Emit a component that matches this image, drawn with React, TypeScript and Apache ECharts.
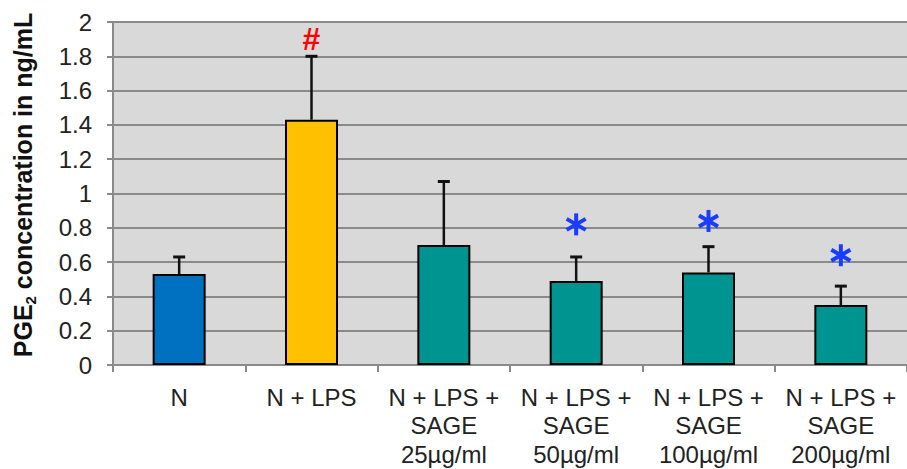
import React, { useEffect, useRef } from "react";
import * as echarts from "echarts";

const categories = [
  "N",
  "N + LPS",
  "N + LPS +\nSAGE\n25µg/ml",
  "N + LPS +\nSAGE\n50µg/ml",
  "N + LPS +\nSAGE\n100µg/ml",
  "N + LPS +\nSAGE\n200µg/ml",
];
const means = [0.53, 1.43, 0.7, 0.49, 0.54, 0.35];
const errorTops = [0.63, 1.8, 1.07, 0.63, 0.69, 0.46];
const barColors = ["#0070C0", "#FFC000", "#009490", "#009490", "#009490", "#009490"];
const markers = ["", "#", "", "*", "*", "*"];
const markerY = [null, 1.9, null, 0.82, 0.84, 0.64];
const yTicks = [0, 0.2, 0.4, 0.6, 0.8, 1, 1.2, 1.4, 1.6, 1.8, 2];

const FONT = "'Liberation Sans', Arial, sans-serif";

export default function App() {
  const ref = useRef<HTMLDivElement>(null);
  useEffect(() => {
    document.body.style.margin = "0";
    if (!ref.current) return;
    const chart = echarts.init(ref.current, undefined, { renderer: "svg" });
    chart.setOption({
      animation: false,
      grid: {
        left: 113,
        right: -6,
        top: 22,
        bottom: 104,
        show: true,
        backgroundColor: "#D9D9D9",
        borderWidth: 0,
      },
      graphic: [
        {
          type: "text",
          x: 23,
          y: 185,
          rotation: Math.PI / 2,
          style: {
            text: "{a|PGE}{s|2}{a| concentration in ng/mL}",
            align: "center",
            verticalAlign: "middle",
            rich: {
              a: { fontFamily: FONT, fontSize: 25, fontWeight: "bold", fill: "#111", lineHeight: 30 },
              s: {
                fontFamily: FONT,
                fontSize: 15,
                fontWeight: "bold",
                fill: "#111",
                lineHeight: 30,
                verticalAlign: "bottom",
                padding: [10, 0, 0, 0],
              },
            },
          },
        },
      ],
      xAxis: {
        type: "category",
        data: categories,
        axisLine: { show: true, lineStyle: { color: "#8a8a8a", width: 2 } },
        axisTick: { show: true, length: 7, lineStyle: { color: "#8a8a8a", width: 2 } },
        axisLabel: {
          interval: 0,
          margin: 18,
          fontFamily: FONT,
          fontSize: 24,
          lineHeight: 28.5,
          color: "#222",
        },
      },
      yAxis: {
        type: "value",
        min: 0,
        max: 2,
        interval: 0.2,
        axisLine: { show: true, lineStyle: { color: "#8a8a8a", width: 2 } },
        axisTick: { show: true, length: 6, lineStyle: { color: "#8a8a8a", width: 2 } },
        splitLine: { show: true, lineStyle: { color: "#8a8a8a", width: 2 } },
        axisLabel: {
          margin: 21,
          fontFamily: FONT,
          fontSize: 24,
          color: "#222",
          formatter: (v: number) => {
            const t = yTicks.find((x) => Math.abs(x - v) < 1e-6);
            return String(t !== undefined ? t : v);
          },
        },
      },
      series: [
        {
          type: "bar",
          barWidth: 53,
          data: means.map((v, i) => ({
            value: v,
            itemStyle: { color: barColors[i], borderColor: "#000", borderWidth: 2 },
          })),
          z: 2,
        },
        {
          type: "custom",
          z: 3,
          data: means.map((v, i) => [i, v, errorTops[i]]),
          renderItem: (params: any, api: any) => {
            const i = api.value(0);
            const base = api.coord([i, api.value(1)]);
            const top = api.coord([i, api.value(2)]);
            const x = base[0];
            return {
              type: "group",
              children: [
                {
                  type: "line",
                  shape: { x1: x, y1: base[1], x2: x, y2: top[1] },
                  style: { stroke: "#111", lineWidth: 2.5 },
                },
                {
                  type: "line",
                  shape: { x1: x - 6, y1: top[1], x2: x + 6, y2: top[1] },
                  style: { stroke: "#111", lineWidth: 3 },
                },
              ],
            };
          },
        },
        {
          type: "custom",
          z: 4,
          data: markers
            .map((m, i) => ({ m, i, y: markerY[i] }))
            .filter((d) => d.m !== "" && d.y !== null)
            .map((d) => [d.i, d.y, d.m === "#" ? 1 : 0]),
          renderItem: (params: any, api: any) => {
            const p = api.coord([api.value(0), api.value(1)]);
            const kind = api.value(2);
            if (kind === 1) {
              return {
                type: "text",
                x: p[0],
                y: p[1],
                style: {
                  text: "#",
                  fill: "#FF0000",
                  font: "bold 32px " + FONT,
                  align: "center",
                  verticalAlign: "middle",
                },
              };
            }
            const r = 11;
            const c = Math.cos(Math.PI / 6) * r;
            const s = Math.sin(Math.PI / 6) * r;
            const st = { stroke: "#1a3cff", lineWidth: 4 };
            return {
              type: "group",
              x: p[0],
              y: p[1],
              children: [
                { type: "line", shape: { x1: 0, y1: -r, x2: 0, y2: r }, style: st },
                { type: "line", shape: { x1: -c, y1: -s, x2: c, y2: s }, style: st },
                { type: "line", shape: { x1: -c, y1: s, x2: c, y2: -s }, style: st },
              ],
            };
          },
        },
      ],
    });
    return () => chart.dispose();
  }, []);
  return <div ref={ref} style={{ width: 907, height: 469 }} />;
}
